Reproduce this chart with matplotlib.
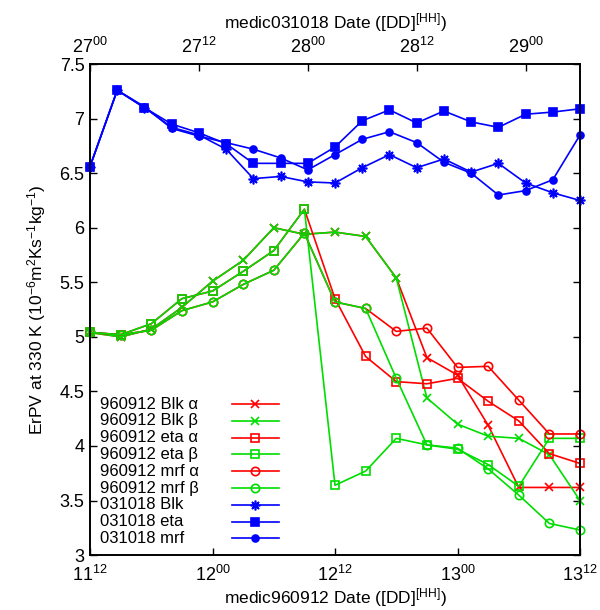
import numpy as np
import matplotlib.pyplot as plt
from matplotlib.lines import Line2D

plt.rcParams['font.family'] = ['Liberation Sans', 'DejaVu Sans']
plt.rcParams['mathtext.fontset'] = 'custom'
plt.rcParams['mathtext.rm'] = 'Liberation Sans'
plt.rcParams['mathtext.it'] = 'Liberation Sans'
plt.rcParams['mathtext.default'] = 'regular'

# hours since 11 12UTC (960912) and since 27 00UTC (031018), every 3 h
hrs_960912 = np.arange(0, 49, 3)
hrs_031018 = np.arange(0, 55, 3)

blk_a = [5.04, 5.00, 5.07, 5.27, 5.51, 5.70, 6.00, 5.94, 5.96, 5.92, 5.54, 4.81, 4.65, 4.19, 3.62, 3.62, 3.62]
blk_b = [5.04, 5.00, 5.07, 5.27, 5.51, 5.70, 6.00, 5.94, 5.96, 5.92, 5.54, 4.44, 4.20, 4.09, 4.07, 3.92, 3.50]
eta_a = [5.04, 5.02, 5.12, 5.35, 5.42, 5.60, 5.79, 6.17, 5.35, 4.82, 4.59, 4.57, 4.62, 4.41, 4.23, 3.93, 3.84]
eta_b = [5.04, 5.02, 5.12, 5.35, 5.42, 5.60, 5.79, 6.17, 3.64, 3.77, 4.07, 4.01, 3.97, 3.83, 3.63, 4.07, 4.07]
mrf_a = [5.04, 5.02, 5.06, 5.24, 5.32, 5.48, 5.61, 5.95, 5.32, 5.26, 5.05, 5.08, 4.72, 4.73, 4.42, 4.11, 4.11]
mrf_b = [5.04, 5.02, 5.06, 5.24, 5.32, 5.48, 5.61, 5.95, 5.32, 5.26, 4.62, 4.01, 3.98, 3.79, 3.55, 3.29, 3.23]

blk_03 = [6.56, 7.26, 7.10, 6.92, 6.85, 6.72, 6.45, 6.47, 6.42, 6.41, 6.55, 6.67, 6.55, 6.63, 6.51, 6.59, 6.41, 6.32, 6.25]
eta_03 = [6.56, 7.26, 7.10, 6.95, 6.87, 6.77, 6.59, 6.59, 6.59, 6.74, 6.98, 7.08, 6.96, 7.07, 6.97, 6.92, 7.04, 7.06, 7.09]
mrf_03 = [6.56, 7.26, 7.11, 6.91, 6.84, 6.78, 6.72, 6.64, 6.53, 6.67, 6.81, 6.88, 6.78, 6.60, 6.50, 6.30, 6.34, 6.44, 6.85]

bottom_ticks = [0, 12, 24, 36, 48]
bottom_labels = ['$11^{12}$', '$12^{00}$', '$12^{12}$', '$13^{00}$', '$13^{12}$']
top_ticks = [0, 12, 24, 36, 48]
top_labels = ['$27^{00}$', '$27^{12}$', '$28^{00}$', '$28^{12}$', '$29^{00}$']

red = '#ff0000'
green = '#00dd00'
blue = '#0000ff'
lw = 1.2
ms = 6
asterisk = (8, 2, 0)

fig = plt.figure(figsize=(6.0, 6.1), dpi=100)
ax = fig.add_axes([0.15, 0.09, 0.8167, 0.805])
ax2 = ax.twiny()

series = [
    (ax, hrs_960912, blk_a, '960912 Blk α', red, 'x', 'none'),
    (ax, hrs_960912, blk_b, '960912 Blk β', green, 'x', 'none'),
    (ax, hrs_960912, eta_a, '960912 eta α', red, 's', 'none'),
    (ax, hrs_960912, eta_b, '960912 eta β', green, 's', 'none'),
    (ax, hrs_960912, mrf_a, '960912 mrf α', red, 'o', 'none'),
    (ax, hrs_960912, mrf_b, '960912 mrf β', green, 'o', 'none'),
    (ax2, hrs_031018, blk_03, '031018 Blk', blue, asterisk, blue),
    (ax2, hrs_031018, eta_03, '031018 eta', blue, 's', blue),
    (ax2, hrs_031018, mrf_03, '031018 mrf', blue, 'o', blue),
]

def msize(m, fc):
    if m == asterisk:
        return ms + 1
    if m == 'o' and fc != 'none':
        return ms - 1
    return ms

for a, x, y, lab, c, m, fc in series:
    a.plot(x, y, color=c, lw=lw, marker=m, ms=msize(m, fc), mfc=fc, mec=c, mew=1.2, clip_on=False)

ax.set_xlim(0, 48)
ax.set_ylim(3, 7.5)
ax2.set_xlim(0, 54)
ax.set_yticks(np.arange(3, 7.51, 0.5))
ax.set_yticklabels(['3', '3.5', '4', '4.5', '5', '5.5', '6', '6.5', '7', '7.5'])
ax.set_xticks(bottom_ticks)
ax.set_xticklabels(bottom_labels)
ax2.set_xticks(top_ticks)
ax2.set_xticklabels(top_labels)

ax.tick_params(axis='both', direction='in', length=5, width=1, labelsize=13, pad=4)
ax.tick_params(axis='x', pad=7)
ax.tick_params(axis='y', right=True)
ax.tick_params(axis='x', top=False)
ax2.tick_params(axis='x', direction='in', length=5, width=1, labelsize=13, pad=5)
for a in (ax, ax2):
    for s in a.spines.values():
        s.set_linewidth(1.2)

ax.set_xlabel('medic960912 Date ([DD]$^{[HH]}$)', fontsize=12.5, labelpad=1)
ax2.set_xlabel('medic031018 Date ([DD]$^{[HH]}$)', fontsize=12.5, labelpad=6)
ax.set_ylabel('ErPV at 330 K (10$^{-6}$m$^{2}$Ks$^{-1}$kg$^{-1}$)', fontsize=12.5, labelpad=8)

# gnuplot style key: text on the left, sample line on the right
y0 = 0.3075
dy = 0.0342
for i, (a, x, y, lab, c, m, fc) in enumerate(series):
    yy = y0 - i * dy
    ax2.text(0.0204, yy, lab, transform=ax2.transAxes, fontsize=12, va='center', ha='left')
    ax2.add_line(Line2D([0.289, 0.386], [yy, yy], transform=ax2.transAxes, color=c, lw=lw))
    ax2.add_line(Line2D([0.3375], [yy], transform=ax2.transAxes, color=c, marker=m, ms=msize(m, fc),
                        mfc=fc, mec=c, mew=1.2))

fig.savefig('out.png', dpi=100)
